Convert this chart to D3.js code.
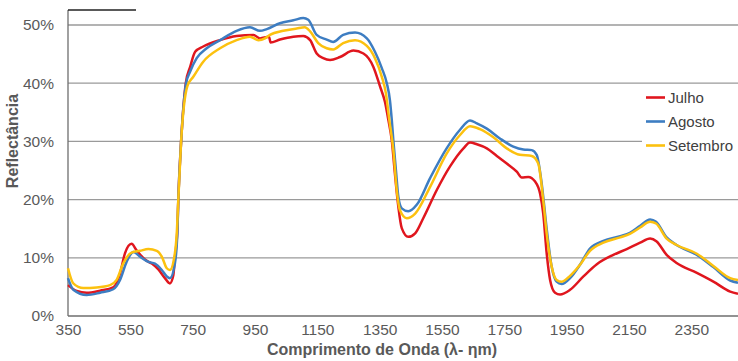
<!DOCTYPE html>
<html>
<head>
<meta charset="utf-8">
<script src="https://cdn.jsdelivr.net/npm/d3@7"></script>
<style>
  body { margin: 0; background: #fff; }
  svg { font-family: "Liberation Sans", Arial, sans-serif; }
</style>
</head>
<body>
<script>
// data: [wavelength nm, reflectance %]
var julho = [[350,5.3],[378,4.3],[410,4.0],[453,4.35],[495,4.9],[517,7.3],[533,10.8],[554,12.4],[570,11.3],[597,9.7],[619,9.0],[640,8.0],[661,6.5],[677,5.6],[688,7.0],[693,10.0],[697,11.9],[701,14.8],[704,20],[713,30],[728,40],[742,42.8],[758,45.4],[784,46.3],[838,47.4],[891,48.1],[945,48.3],[966,47.7],[995,48.0],[1000,47.0],[1030,47.5],[1073,48.0],[1105,48.1],[1127,47.4],[1148,45.1],[1169,44.3],[1191,44.0],[1223,44.5],[1266,45.6],[1298,45.1],[1330,42.8],[1351,39.5],[1367,36.8],[1378,33.7],[1389,30.2],[1399,24.5],[1410,18.8],[1421,15.1],[1442,13.6],[1464,14.2],[1490,16.8],[1533,21.6],[1576,25.7],[1619,28.8],[1640,29.8],[1662,29.5],[1694,28.8],[1726,27.5],[1758,26.2],[1790,24.8],[1806,23.8],[1827,23.9],[1849,23.1],[1865,21],[1875,17.6],[1886,10.8],[1897,6.2],[1913,4.0],[1929,3.7],[1961,4.5],[2004,6.8],[2047,8.9],[2100,10.5],[2143,11.5],[2186,12.6],[2218,13.3],[2239,12.8],[2271,10.5],[2303,9.1],[2368,7.4],[2421,5.9],[2475,4.2],[2500,3.8]];

var agosto = [[350,6.5],[367,4.5],[410,3.6],[453,4.0],[495,4.6],[517,6.2],[538,9.3],[560,11.0],[581,10.2],[608,9.3],[629,9.0],[651,7.9],[667,6.8],[677,6.5],[693,9.0],[701,14.3],[704,20],[713,30],[729,40],[742,42.0],[763,44.3],[795,46.0],[838,47.4],[891,49.0],[934,49.6],[966,49.0],[988,49.3],[1030,50.3],[1073,50.8],[1105,51.2],[1121,50.9],[1148,48.3],[1180,47.5],[1201,47.1],[1233,48.3],[1271,48.7],[1309,47.7],[1335,45.4],[1357,42.6],[1373,40.0],[1383,37.1],[1389,33.7],[1394,30.2],[1403,24.6],[1410,20.5],[1421,18.5],[1442,18.0],[1469,19.1],[1512,23.7],[1565,28.8],[1608,32.0],[1640,33.6],[1662,33.1],[1694,32.2],[1736,30.5],[1779,29.1],[1811,28.6],[1838,28.5],[1854,27.7],[1870,22.8],[1886,15.0],[1902,8.5],[1918,5.9],[1934,5.5],[1961,6.5],[1993,8.8],[2025,11.6],[2068,12.9],[2122,13.7],[2153,14.3],[2186,15.5],[2218,16.6],[2237,16.2],[2271,13.5],[2303,12.2],[2368,10.5],[2421,8.4],[2475,6.1],[2500,5.7]];

var setembro = [[350,8.2],[367,5.6],[399,4.8],[442,4.9],[485,5.3],[506,6.2],[527,9.0],[554,10.9],[581,11.2],[608,11.5],[635,11.2],[651,10.2],[667,8.2],[677,7.9],[693,10.8],[699,14.2],[704,20],[713,30],[733,39.5],[752,41.1],[784,43.7],[838,46.0],[891,47.4],[934,48.0],[961,47.4],[982,47.7],[998,48.3],[1041,49.0],[1084,49.4],[1110,49.6],[1127,48.9],[1153,46.9],[1180,46.0],[1201,45.8],[1233,46.9],[1271,47.4],[1309,46.4],[1335,44.3],[1357,41.1],[1370,38.3],[1381,33.7],[1394,28.5],[1405,21.6],[1415,18.2],[1437,16.8],[1464,17.6],[1512,22.2],[1565,27.9],[1608,31.1],[1640,32.6],[1672,32.1],[1715,30.7],[1758,28.8],[1800,27.7],[1838,27.5],[1859,26.2],[1875,19.9],[1886,14.2],[1902,8.5],[1918,6.2],[1934,5.9],[1961,6.9],[1993,8.8],[2025,11.2],[2068,12.6],[2122,13.5],[2153,14.1],[2186,15.2],[2218,16.2],[2237,15.9],[2271,13.3],[2303,12.2],[2368,10.7],[2421,8.6],[2475,6.5],[2500,6.2]];

var seriesNames = ["Julho", "Agosto", "Setembro"];
var seriesColors = ["#e0161e", "#3d7dc2", "#fcc10f"];
var xTicks = [350, 550, 750, 950, 1150, 1350, 1550, 1750, 1950, 2150, 2350];
var yTicks = [0, 10, 20, 30, 40, 50];

// plot area in pixels
var margin = {top: 25, right: 738, bottom: 316, left: 68};

var svg = d3.select("body").append("svg")
    .attr("width", 738)
    .attr("height", 361);

var x = d3.scaleLinear().domain([350, 2500]).range([margin.left, margin.right]);
var y = d3.scaleLinear().domain([0, 50]).range([margin.bottom, margin.top]);

// gridlines
svg.append("g")
    .selectAll("line")
    .data(yTicks.slice(1))
    .enter().append("line")
    .attr("x1", margin.left)
    .attr("x2", margin.right)
    .attr("y1", function(d) { return y(d); })
    .attr("y2", function(d) { return y(d); })
    .attr("stroke", "#9a9a9a")
    .attr("stroke-width", 1.3);

// axis lines
svg.append("line")
    .attr("x1", margin.left).attr("x2", margin.right)
    .attr("y1", margin.bottom).attr("y2", margin.bottom)
    .attr("stroke", "#6e6e6e").attr("stroke-width", 1.3);
svg.append("line")
    .attr("x1", margin.left).attr("x2", margin.left)
    .attr("y1", 10).attr("y2", margin.bottom)
    .attr("stroke", "#6e6e6e").attr("stroke-width", 1.3);
svg.append("line")
    .attr("x1", margin.left).attr("x2", 136)
    .attr("y1", 10).attr("y2", 10)
    .attr("stroke", "#222").attr("stroke-width", 1.3);

// tick labels
var xAxis = svg.append("g")
    .attr("transform", "translate(0," + margin.bottom + ")")
    .call(d3.axisBottom(x).tickValues(xTicks).tickSize(0).tickPadding(8).tickFormat(d3.format("d")));
var yAxis = svg.append("g")
    .attr("transform", "translate(" + margin.left + ",0)")
    .call(d3.axisLeft(y).tickValues(yTicks).tickSize(0).tickPadding(14).tickFormat(function(d) { return d + "%"; }));
[xAxis, yAxis].forEach(function(a) {
    a.select(".domain").remove();
    a.selectAll("text")
        .attr("font-family", "Liberation Sans, Arial, sans-serif")
        .attr("font-size", 15.5)
        .attr("fill", "#5a5a5a");
});

// lines
var line = d3.line()
    .x(function(d) { return x(d[0]); })
    .y(function(d) { return y(d[1]); })
    .curve(d3.curveMonotoneX);

[julho, agosto, setembro].forEach(function(s, i) {
    svg.append("path")
        .datum(s)
        .attr("fill", "none")
        .attr("stroke", seriesColors[i])
        .attr("stroke-width", 2.5)
        .attr("stroke-linejoin", "round")
        .attr("d", line);
});

// legend
svg.append("rect")
    .attr("x", 642).attr("y", 88)
    .attr("width", 96).attr("height", 68)
    .attr("fill", "#fff");

var legend = svg.selectAll(".legend")
    .data(seriesNames)
    .enter().append("g")
    .attr("class", "legend")
    .attr("transform", function(d, i) { return "translate(646," + (97.5 + i * 24) + ")"; });
legend.append("line")
    .attr("x1", 0).attr("x2", 19)
    .attr("stroke", function(d, i) { return seriesColors[i]; })
    .attr("stroke-width", 2.6);
legend.append("text")
    .attr("x", 22)
    .attr("dy", "0.35em")
    .attr("font-size", 15)
    .attr("fill", "#404040")
    .text(function(d) { return d; });

// axis titles
svg.append("text")
    .attr("x", 382).attr("y", 355)
    .attr("text-anchor", "middle")
    .attr("font-size", 16)
    .attr("font-weight", "bold")
    .attr("fill", "#595959")
    .text("Comprimento de Onda (λ- ηm)");

svg.append("text")
    .attr("transform", "translate(18,141) rotate(-90)")
    .attr("text-anchor", "middle")
    .attr("font-size", 16)
    .attr("font-weight", "bold")
    .attr("fill", "#595959")
    .text("Reflectância");
</script>
</body>
</html>
